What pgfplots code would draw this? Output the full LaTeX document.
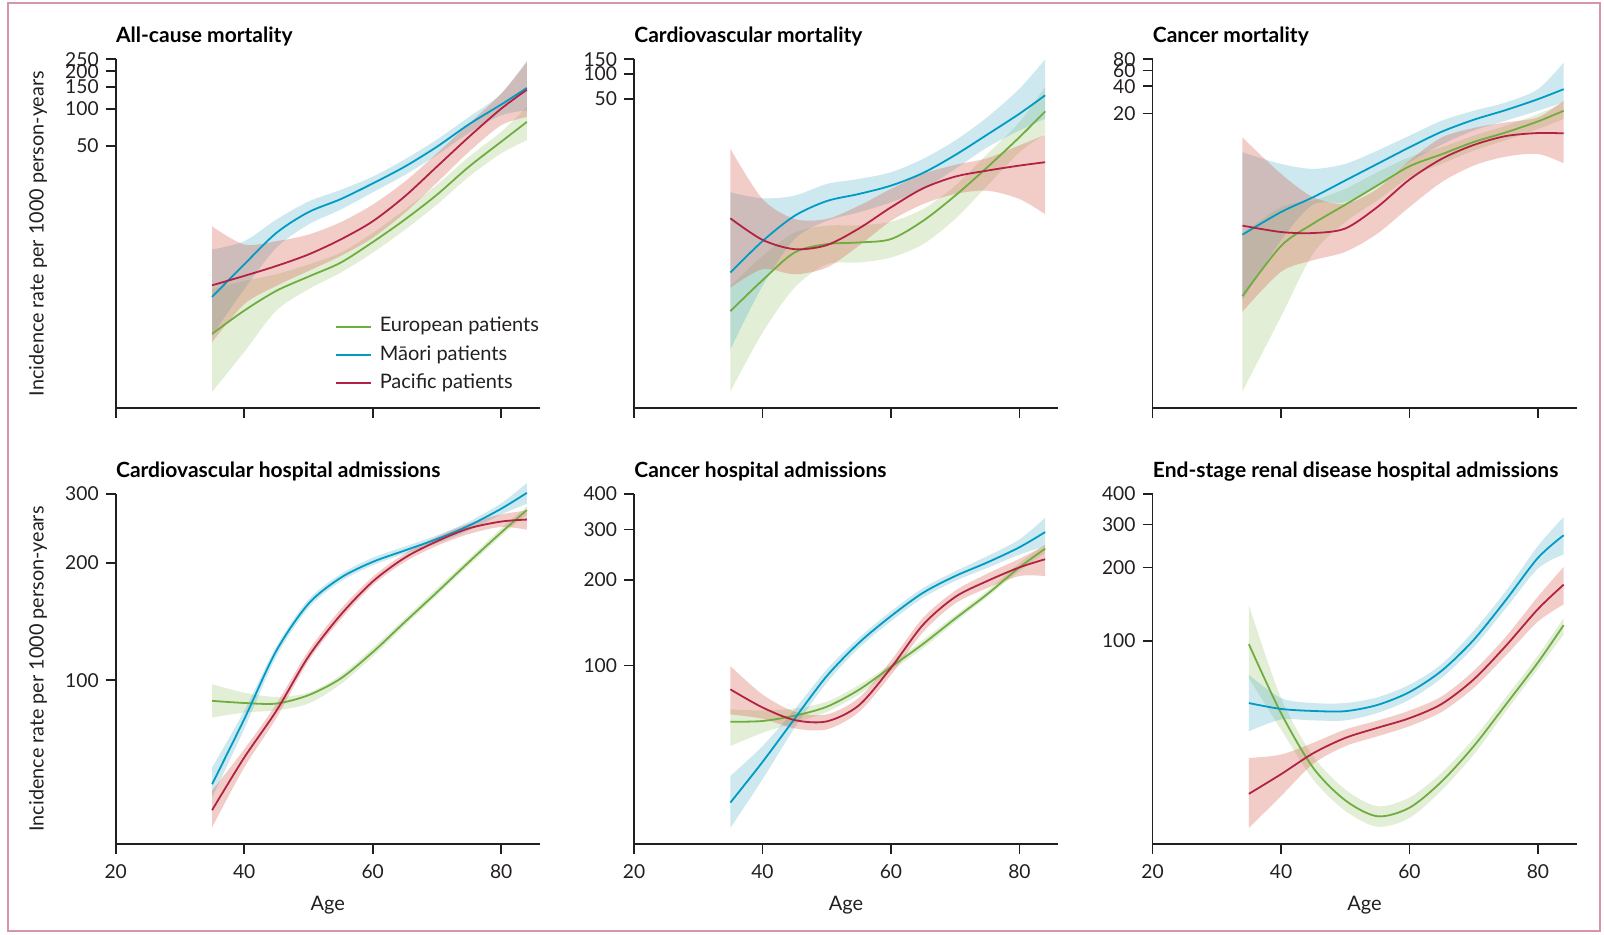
\documentclass[border=0pt]{standalone}
\usepackage{fontspec}
\setmainfont{Lato}
\usepackage{pgfplots}
\usepackage{pgfplotstable}
\pgfplotsset{compat=1.18}
\usepgfplotslibrary{fillbetween}

\definecolor{eurL}{RGB}{112,173,65}
\definecolor{maoL}{RGB}{0,155,196}
\definecolor{pacL}{RGB}{178,34,68}
\definecolor{eurB}{RGB}{158,202,118}
\definecolor{maoB}{RGB}{88,178,198}
\definecolor{pacB}{RGB}{212,88,72}
\definecolor{axc}{RGB}{35,31,32}
\definecolor{framec}{RGB}{214,150,170}

% a = age; g/b/r = European/Maori/Pacific; l = estimate, u = upper, d = lower
\pgfplotstableread{
a  gl    gu    gd     bl    bu    bd    rl    ru    rd
35 1.54  3.52  0.525  3.06  7.36  1.49  3.79  11.3  1.32
40 2.37  4.11  1.10   5.58  8.58  3.52  4.51  8.07  2.67
45 3.42  4.65  2.37   10.0  12.8  7.59  5.42  8.58  3.75
50 4.45  5.58  3.52   14.7  17.9  11.7  6.71  9.70  4.94
55 5.76  6.92  4.79   18.7  22.2  15.4  8.85  12.2  6.52
60 8.43  10.0  6.92   25.0  28.4  21.2  12.4  16.9  9.13
65 12.8  15.4  10.6   34.2  39.1  29.3  19.7  25.9  14.5
70 20.3  24.4  16.9   49.4  56.5  42.4  34.2  43.7  25.4
75 34.2  41.1  28.4   75.0  85.8  63.9  59.4  75.9  45.1
80 54.2  65.1  43.7   108   132   88.5  100   132   73.6
84 78.3  103   55.8   147   245   97    142   236   85.8
}\tA

\pgfplotstableread{
a  gl     gu     gd      bl     bu    bd     rl    ru    rd
35 0.134  0.270  0.0143  0.393  3.67  0.046  1.78  12.4  0.258
40 0.317  0.625  0.0733  0.942  3.11  0.270  0.977 3.05  0.431
45 0.687  1.20   0.258   1.91   3.35  0.998  0.754 1.75  0.374
50 0.867  1.45   0.495   2.88   4.64  1.66   0.843 1.75  0.451
55 0.908  1.47   0.519   3.51   5.34  2.10   1.34  2.53  0.828
60 0.998  1.62   0.597   4.43   6.43  2.78   2.42  4.04  1.66
65 1.66   2.31   0.867   6.31   9.34  4.04   4.11  6.14  2.65
70 3.35   4.43   1.75    10.4   15.6  7.06   5.70  7.90  3.51
75 7.40   10.7   4.43    18.4   29.9  12.9   6.74  9.52  3.85
80 17.1   26.0   11.2    32.9   66.1  20.6   7.75  13.6  3.05
84 35.1   69.3   18.8    54.9   150   28.6   8.51  18.3  2.00
}\tB

\pgfplotstableread{
a  gl     gu     gd      bl     bu    bd     rl    ru    rd
34 0.186  0.920  0.0162  0.897  7.39  0.168  1.13  10.8  0.125
40 0.671  1.82   0.110   1.60   5.49  0.776  0.960 4.26  0.346
45 1.19   2.15   0.552   2.34   4.83  1.94   0.935 2.34  0.466
50 1.93   2.90   1.24    3.59   5.49  2.06   1.05  1.98  0.577
55 3.16   4.44   2.15    5.49   7.72  3.16   1.82  2.90  0.920
60 5.17   6.51   3.91    8.40   11.3  5.73   3.68  5.98  1.82
65 7.02   8.40   5.49    12.5   16.6  8.99   6.24  10.8  3.44
70 9.62   11.3   7.72    17.0   21.4  12.9   8.91  13.8  5.26
75 12.3   14.6   10.1    21.8   26.5  16.6   11.2  15.9  6.62
80 16.3   19.7   13.4    28.8   37.2  21.4   12.1  18.1  7.08
84 21.4   26.5   17.3    37.2   73.5  26.5   12.0  27.6  5.58
}\tC

\pgfplotstableread{
a  gl    gu    gd    bl    bu    bd    rl    ru    rd
35 88.6  97.7  80.3  54.2  59.8  50.1  46.5  52.2  42.0
40 87.5  93.0  82.7  79.5  83.5  75.0  63.4  66.6  59.8
45 87.2  90.7  83.8  119   122   115   83.5  87.0  80.0
50 91.6  93.0  87.2  157   161   153   115   119   112
55 101   103   97.7  183   187   179   147   152   143
60 118   121   115   201   206   197   179   184   175
65 141   144   138   215   220   211   206   211   201
70 168   172   165   230   235   224   227   233   221
75 201   205   197   249   255   242   245   252   237
80 239   245   234   275   284   266   255   266   247
84 273   279   266   302   320   283   258   272   243
}\tD

\pgfplotstableread{
a  gl    gu    gd    bl    bu    bd    rl    ru    rd
35 63.4  70.1  52.1  33.0  40.9  26.9  82.4  99.5  67.3
40 63.8  69.5  58.0  45.8  52.1  39.8  71.2  79.1  65.0
45 66.6  70.6  62.9  65.0  70.1  60.4  64.3  68.8  60.1
50 71.6  74.6  68.6  91.7  96.8  86.9  63.6  67.3  59.6
55 82.1  85.3  79.1  120   125   115   72.4  77.0  68.6
60 98.7  101   95.5  149   155   143   98.1  104   92.5
65 119   123   115   180   187   173   139   147   131
70 146   150   142   206   214   198   174   183   165
75 178   183   174   230   242   220   198   210   187
80 221   229   214   260   277   245   221   237   206
84 257   266   248   294   330   262   236   264   206
}\tE

\pgfplotstableread{
a  gl    gu    gd    bl    bu    bd    rl    ru    rd
35 96.9  140   70.4  55.6  72.6  42.6  23.6  33.1  17.1
40 50.6  58.3  43.3  52.6  58.3  47.6  28.4  34.2  23.1
45 30.2  33.7  27.0  51.6  55.6  47.2  34.6  38.2  31.3
50 22.2  24.6  20.1  51.5  55.6  47.2  40.0  43.3  37.0
55 19.1  21.0  17.3  54.6  58.7  50.6  44.0  47.1  40.6
60 20.7  22.8  18.8  61.7  66.1  57.4  48.2  51.8  44.7
65 26.5  28.8  24.4  75.4  80.3  70.4  55.1  59.2  51.1
70 37.0  39.8  34.2  101   110   94.2  69.5  75.4  64.1
75 54.8  58.7  51.4  147   160   136   95.4  104   87.1
80 81.6  87.1  76.8  219   245   198   135   152   120
84 116   124   106   271   322   226   170   201   141
}\tF

\newcommand\drawbands[1]{%
  \addplot[draw=none, forget plot, smooth, name path=gu] table[x=a,y=gu]{#1};
  \addplot[draw=none, forget plot, smooth, name path=gd] table[x=a,y=gd]{#1};
  \addplot[forget plot, fill=eurB, fill opacity=0.3, draw=none] fill between[of=gu and gd];
  \addplot[draw=none, forget plot, smooth, name path=bu] table[x=a,y=bu]{#1};
  \addplot[draw=none, forget plot, smooth, name path=bd] table[x=a,y=bd]{#1};
  \addplot[forget plot, fill=maoB, fill opacity=0.3, draw=none] fill between[of=bu and bd];
  \addplot[draw=none, forget plot, smooth, name path=ru] table[x=a,y=ru]{#1};
  \addplot[draw=none, forget plot, smooth, name path=rd] table[x=a,y=rd]{#1};
  \addplot[forget plot, fill=pacB, fill opacity=0.3, draw=none] fill between[of=ru and rd];
}
\newcommand\drawcurves[1]{%
  \addplot[eurL, line width=0.9pt, smooth] table[x=a,y=gl]{#1};
  \addplot[maoL, line width=0.9pt, smooth] table[x=a,y=bl]{#1};
  \addplot[pacL, line width=0.9pt, smooth] table[x=a,y=rl]{#1};
}

\pgfplotsset{
  mypanel/.style={
    scale only axis, width=212pt,
    xmin=20, xmax=86,
    axis x line=bottom, axis y line=left,
    axis line style={-, line width=0.9pt, color=axc},
    major tick style={line width=0.9pt, color=axc},
    major tick length=5pt, tick align=outside,
    xtick={20,40,60,80},
    yminorticks=false, xminorticks=false,
    clip=false,
    tick label style={font=\fontsize{9.6}{11}\selectfont, color=axc},
    xticklabel style={yshift=-1.6pt},
    title style={at={(axis description cs:0,1)}, anchor=base west, yshift=2.6pt,
      font=\fontsize{10.5}{12}\selectfont\bfseries, inner sep=0pt},
    ylabel style={at={(axis description cs:-0.1833,0.5)}, anchor=center,
      font=\fontsize{9.9}{12}\selectfont, color=axc},
    xlabel style={at={(axis description cs:0.5,0)}, anchor=base, yshift=-33.4pt,
      font=\fontsize{10}{12}\selectfont, color=axc},
  },
}

\begin{document}
\begin{tikzpicture}
\path (0,0) rectangle (802pt,467.5pt);
\draw[framec, line width=1pt] (3.75pt,1.75pt) rectangle (799.75pt,465.75pt);

% ---- All-cause mortality
\begin{axis}[mypanel, ymode=log, height=174.35pt, at={(57.85pt,263.5pt)}, anchor=south west,
  xticklabels={,,,},
  ymin=0.39, ymax=250, ytick={50,100,150,200,250}, yticklabels={50,100,150,200,250},
  title={All-cause mortality},
  ylabel={Incidence rate per 1000 person-years},
  legend cell align=left,
  legend style={at={(axis description cs:0.5162,0.2627)}, anchor=north west,
    draw=none, fill=none, inner sep=0pt, column sep=4pt, row sep=4.25pt,
    font=\fontsize{10}{12}\selectfont,
    nodes={inner sep=0pt, text height=7.6pt, text depth=2.3pt, text=axc}},
  legend image code/.code={\draw[#1, line width=0.9pt] (0pt,0pt) -- (17.5pt,0pt);},
]
\drawbands{\tA}
\drawcurves{\tA}
\legend{European patients, Māori patients, Pacific patients}
\end{axis}

% ---- Cardiovascular mortality
\begin{axis}[mypanel, ymode=log, height=174.35pt, at={(317pt,263.5pt)}, anchor=south west,
  xticklabels={,,,},
  ymin=0.009, ymax=150, ytick={50,100,150}, yticklabels={50,100,150},
  title={Cardiovascular mortality}]
\drawbands{\tB}
\drawcurves{\tB}
\end{axis}

% ---- Cancer mortality
\begin{axis}[mypanel, ymode=log, height=174.35pt, at={(576.25pt,263.5pt)}, anchor=south west,
  xticklabels={,,,},
  ymin=0.0106, ymax=80, ytick={20,40,60,80}, yticklabels={20,40,60,80},
  title={Cancer mortality}]
\drawbands{\tC}
\drawcurves{\tC}
\end{axis}

% ---- Cardiovascular hospital admissions
\begin{axis}[mypanel, ymode=log, height=175pt, at={(57.85pt,45.5pt)}, anchor=south west,
  xticklabels={20,40,60,80}, xlabel={Age},
  ymin=38.1, ymax=300, ytick={100,200,300}, yticklabels={100,200,300},
  title={Cardiovascular hospital admissions},
  title style={yshift=-0.4pt},
  ylabel={Incidence rate per 1000 person-years}]
\drawbands{\tD}
\drawcurves{\tD}
\end{axis}

% ---- Cancer hospital admissions
\begin{axis}[mypanel, ymode=log, height=175pt, at={(317pt,45.5pt)}, anchor=south west,
  xticklabels={20,40,60,80}, xlabel={Age},
  ymin=23.6, ymax=400, ytick={100,200,300,400}, yticklabels={100,200,300,400},
  title={Cancer hospital admissions},
  title style={yshift=-0.4pt}]
\drawbands{\tE}
\drawcurves{\tE}
\end{axis}

% ---- End-stage renal disease hospital admissions
\begin{axis}[mypanel, ymode=log, height=175pt, at={(576.25pt,45.5pt)}, anchor=south west,
  xticklabels={20,40,60,80}, xlabel={Age},
  ymin=14.7, ymax=400, ytick={100,200,300,400}, yticklabels={100,200,300,400},
  title={End-stage renal disease hospital admissions},
  title style={yshift=-0.4pt}]
\drawbands{\tF}
\drawcurves{\tF}
\end{axis}
\end{tikzpicture}
\end{document}
